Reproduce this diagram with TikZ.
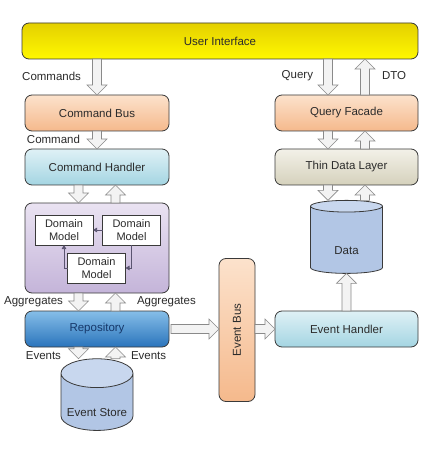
\documentclass[tikz,border=0pt]{standalone}
\usepackage{fontspec}
\setmainfont{Liberation Sans}
\usepackage{tikz}
\usetikzlibrary{shapes,arrows,positioning,calc,arrows.meta}

\definecolor{uitop}{HTML}{E4D000}
\definecolor{uibot}{HTML}{FFF800}
\definecolor{peachtop}{HTML}{FCE2CC}
\definecolor{peachbot}{HTML}{F5B98C}
\definecolor{cyantop}{HTML}{DFF1F6}
\definecolor{cyanbot}{HTML}{A4D5E2}
\definecolor{purptop}{HTML}{EAE3F2}
\definecolor{purpbot}{HTML}{C4B4D9}
\definecolor{repotop}{HTML}{86BEE8}
\definecolor{repobot}{HTML}{2A74BC}
\definecolor{thintop}{HTML}{F3F1E8}
\definecolor{thinbot}{HTML}{D5D1BC}
\definecolor{dbbody}{HTML}{B2C6E5}
\definecolor{dbend}{HTML}{C8D7EE}
\definecolor{edge}{HTML}{3A3A3A}
\definecolor{fatfill}{HTML}{F3F3F3}
\definecolor{fatline}{HTML}{8A8A8A}
\definecolor{ink}{HTML}{2B2B2B}
\definecolor{repoink}{HTML}{16386A}
\definecolor{dmline}{HTML}{5A5470}

\newcommand{\fatshaft}{4.5pt}
\newcommand{\fathead}{10pt}
\newcommand{\fatlen}{10pt}

\begin{document}
\begin{tikzpicture}[x=1pt, y=-1pt, outer sep=0pt,
    font=\fontsize{11.5}{13}\selectfont, text=ink,
    box/.style={draw=edge, line width=0.8pt, rounded corners=7pt,
        minimum width=144, minimum height=36, inner sep=0pt},
    db/.style={cylinder, shape border rotate=90, aspect=0.48, draw=edge,
        line width=0.8pt, cylinder uses custom fill, cylinder body fill=dbbody,
        cylinder end fill=dbend, minimum width=72, minimum height=71, inner sep=0pt,
        text height=28pt, text depth=0pt},
    dmbox/.style={draw=edge, line width=0.7pt, fill=white, minimum width=58,
        minimum height=30, inner sep=0pt, align=center,
        font=\fontsize{11}{13}\selectfont},
    dmarrow/.style={draw=dmline, line width=0.7pt, -{Triangle[length=4pt,width=4.5pt]}},
    lbl/.style={inner sep=0pt},
    fatarrow/.style={draw=fatline, fill=fatfill, line width=0.6pt,
        to path={let \p1=(\tikztostart), \p2=(\tikztotarget),
            \n1={atan2(\y2-\y1,\x2-\x1)} in
            ($(\p1)+(\n1+90:\fatshaft)$)
            -- ($(\p2)+(\n1:-\fatlen)+(\n1+90:\fatshaft)$)
            -- ($(\p2)+(\n1:-\fatlen)+(\n1+90:\fathead)$)
            -- (\p2)
            -- ($(\p2)+(\n1:-\fatlen)+(\n1-90:\fathead)$)
            -- ($(\p2)+(\n1:-\fatlen)+(\n1-90:\fatshaft)$)
            -- ($(\p1)+(\n1-90:\fatshaft)$) -- cycle}}]

    \fill [white] (0,0) rectangle (443,454);

    % top bar
    \node [box, top color=uitop, bottom color=uibot, minimum width=396] (ui) at (220,41) {User Interface};

    % command side
    \node [box, top color=peachtop, bottom color=peachbot] (cb) at (97,113) {Command Bus};
    \node [box, top color=cyantop, bottom color=cyanbot] (ch) at (97,167) {Command Handler};
    \node [box, top color=purptop, bottom color=purpbot, minimum height=90] (agg) at (97,248) {};
    \node [dmbox] (dm1) at (64,230) {Domain\\Model};
    \node [dmbox] (dm2) at (131.5,230) {Domain\\Model};
    \node [dmbox] (dm3) at (96.5,268) {Domain\\Model};
    \node [box, top color=repotop, bottom color=repobot, text=repoink] (repo) at (97,329) {Repository};
    \node [db] (es) at (97,402) {Event Store};

    % event bus
    \node [box, top color=peachtop, bottom color=peachbot, rotate=90,
        minimum width=143, minimum height=36] (ebus) at (237,330) {Event Bus};

    % query side
    \node [box, top color=peachtop, bottom color=peachbot, minimum width=143] (qf) at (346.5,113) {Query Facade};
    \node [box, top color=thintop, bottom color=thinbot, minimum width=143] (tdl) at (346.5,167) {Thin Data Layer};
    \node [db, minimum height=73] (data) at (346.5,240) {Data};
    \node [box, top color=cyantop, bottom color=cyanbot, minimum width=143] (eh) at (346.5,329) {Event Handler};

    % labels
    \node [lbl, anchor=east] (cmds) at (81,76) {Commands};
    \node [lbl, anchor=east] (cmd) at (80,139) {Command};
    \node [lbl, anchor=east] (query) at (313,76) {Query};
    \node [lbl, anchor=west] (dto) at (382,76) {DTO};
    \node [lbl, anchor=east] (aggl) at (63,302) {Aggregates};
    \node [lbl, anchor=west] (aggr) at (137,302) {Aggregates};
    \node [lbl, anchor=east] (evl) at (61,356) {Events};
    \node [lbl, anchor=west] (evr) at (131,356) {Events};

    % domain model links
    \draw [dmarrow] (dm2.west) -- (dm1.east);
    \draw [dmarrow] (dm2.south) |- (dm3.east);
    \draw [dmarrow] (dm3.west) -| (dm1.south);

    % block arrows
    \draw [fatarrow] (cb.north |- ui.south) to (cb.north);
    \draw [fatarrow] (cb.south) to (ch.north);
    \draw [fatarrow] ([xshift=-18.5]ch.south) to ([xshift=-18.5]agg.north);
    \draw [fatarrow] ([xshift=18.5]agg.north) to ([xshift=18.5]ch.south);
    \draw [fatarrow] ([xshift=-18.5]agg.south) to ([xshift=-18.5]repo.north);
    \draw [fatarrow] ([xshift=18.5]repo.north) to ([xshift=18.5]agg.south);
    \draw [fatarrow] ([xshift=-18.5]repo.south) to ([xshift=-18.5]es.north);
    \draw [fatarrow] ([xshift=18.5]es.north) to ([xshift=18.5]repo.south);
    \draw [fatarrow] ([xshift=2]repo.east) to (repo.east -| ebus.north);
    \draw [fatarrow] (eh.west -| ebus.south) to (eh.west);
    \draw [fatarrow] (eh.north) to (data.south);
    \draw [fatarrow] ([xshift=-18.5]tdl.south) to ([xshift=-18.5]data.north);
    \draw [fatarrow] ([xshift=18.5]data.north) to ([xshift=18.5]tdl.south);
    \draw [fatarrow] ([xshift=-18.5]qf.south) to ([xshift=-18.5]tdl.north);
    \draw [fatarrow] ([xshift=18.5]tdl.north) to ([xshift=18.5]qf.south);
    \draw [fatarrow] ([xshift=-18.5]qf.north |- ui.south) to ([xshift=-18.5]qf.north);
    \draw [fatarrow] ([xshift=18.5]qf.north) to ([xshift=18.5]qf.north |- ui.south);
\end{tikzpicture}
\end{document}
